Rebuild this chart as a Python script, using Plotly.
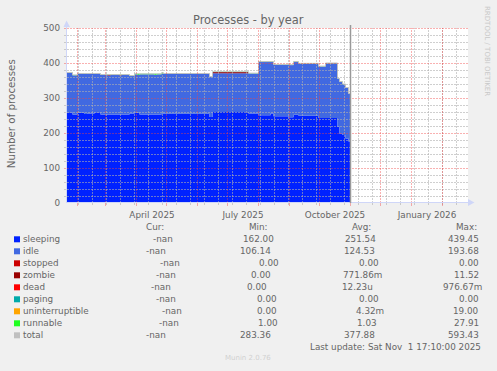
import plotly.graph_objects as go
from datetime import date, datetime, timedelta

# ---------------- data ----------------
dates = ["2025-01-21", "2025-01-27", "2025-02-01", "2025-02-08", "2025-02-11", "2025-02-18",
         "2025-02-24", "2025-03-03", "2025-03-06", "2025-03-15", "2025-03-17", "2025-03-25",
         "2025-03-30", "2025-04-02", "2025-04-04", "2025-04-19", "2025-04-21", "2025-04-26",
         "2025-04-28", "2025-06-13", "2025-06-16", "2025-07-22", "2025-07-31", "2025-08-01",
         "2025-08-13", "2025-08-16", "2025-08-19", "2025-08-20", "2025-08-31", "2025-09-05",
         "2025-09-10", "2025-09-30", "2025-10-07", "2025-10-19", "2025-10-21", "2025-10-24",
         "2025-10-27", "2025-10-30", "2025-11-01"]
sleeping = [259, 253, 258, 254, 256, 259, 253, 253, 253, 253, 253, 256, 258, 258, 253, 253, 253,
            255, 255, 246, 260, 256, 256, 251, 256, 248, 248, 248, 245, 252, 249, 243, 243, 218,
            198, 194, 184, 176, 176]
idle = [113, 112, 111, 115, 113, 110, 113, 111, 113, 111, 113, 107, 110, 108, 115, 113, 115,
        114, 114, 114, 111, 114, 113, 152, 147, 147, 146, 147, 149, 151, 149, 147, 156, 137,
        148, 145, 145, 136, 136]
stopped = [0, 0, 0, 0, 0, 0, 0, 0, 0, 0, 0, 0, 0, 0, 0, 0, 0, 0, 0, 0, 0, 0, 0, 0, 0, 0, 0, 0,
           0, 0, 0, 0, 0, 0, 0, 0, 0, 0, 0]
zombie = [0, 0, 0, 0, 0, 0, 0, 2, 0, 2, 0, 0, 0, 0, 0, 0, 0, 0, 0, 0, 3, 0, 0, 0, 0, 0, 0, 0,
          0, 0, 0, 0, 0, 0, 0, 0, 0, 0, 0]
dead = [0, 0, 0, 0, 0, 0, 0, 0, 0, 0, 0, 0, 0, 0, 0, 0, 0, 0, 0, 0, 0, 0, 0, 0, 0, 0, 1, 0,
        0, 0, 0, 0, 0, 0, 0, 0, 0, 0, 0]
paging = [0, 0, 0, 0, 0, 0, 0, 0, 0, 0, 0, 0, 0, 0, 0, 0, 0, 0, 0, 0, 0, 0, 0, 0, 0, 0, 0, 0,
          0, 0, 0, 0, 0, 0, 0, 0, 0, 0, 0]
uninterruptible = [0, 0, 0, 0, 0, 0, 0, 0, 0, 0, 0, 0, 0, 0, 0, 0, 0, 0, 0, 0, 0, 0, 0, 0, 0,
                   0, 0, 0, 0, 0, 0, 0, 0, 0, 0, 0, 0, 0, 0]
runnable = [1, 1, 1, 1, 1, 1, 1, 1, 1, 1, 1, 1, 1, 3, 1, 3, 1, 3, 1, 1, 1, 1, 2, 1, 1, 1, 1, 1,
            1, 1, 1, 1, 1, 1, 1, 1, 1, 1, 1]

series_names = ["sleeping", "idle", "stopped", "zombie", "dead", "paging", "uninterruptible",
                "runnable", "total"]
series_colors = ["#0022FF", "#4169E1", "#CC0000", "#990000", "#FF0000", "#00AAAA", "#FFA500",
                 "#22FF22", "#C0C0C0"]
cur_vals = ["-nan"] * 9
min_vals = ["162.00", "106.14", "0.00", "0.00", "0.00", "0.00", "0.00", "1.00", "283.36"]
avg_vals = ["251.54", "124.53", "0.00", "771.86m", "12.23u", "0.00", "4.32m", "1.03", "377.88"]
max_vals = ["439.45", "193.68", "0.00", "11.52", "976.67m", "0.00", "19.00", "27.91", "593.43"]

x_label_dates = ["2025-04-16 12:00", "2025-07-16 12:00", "2025-10-16 12:00", "2026-01-16 12:00"]
x_label_text = ["April 2025", "July 2025", "October 2025", "January 2026"]
y_ticks = [0, 100, 200, 300, 400, 500]
last_update = "2025-11-01"

# ---------------- geometry (pixels) ----------------
W, H = 497, 371
L, R, T, B = 67, 468, 28, 203
X0, X1 = datetime(2025, 1, 21, 12), datetime(2026, 2, 26, 12)   # 401 days over 401 px
FONT = "DejaVu Sans"
TXT = "#666666"
GRID = "rgba(175,175,175,0.6)"
MGRID = "rgba(240,70,70,0.42)"
AXIS = "#CFD6F8"
DASH = "2px,1px"
HALF = 0.5 * 500 / (B - T)   # half a pixel in y units


def px(xp):
    return (xp - L) / (R - L)


def py(yp):
    return (B - yp) / (B - T)


stack = [sleeping, idle, stopped, zombie, dead, paging, uninterruptible, runnable]
total = [sum(v) for v in zip(*stack)]

fig = go.Figure()
for name, vals, col in zip(series_names[:8], stack, series_colors[:8]):
    fig.add_trace(go.Scatter(
        x=dates, y=vals, name=name, stackgroup="one", mode="lines",
        line=dict(width=0, shape="hv", color=col), fillcolor=col,
        showlegend=False, hoverinfo="skip"))
fig.add_trace(go.Scatter(
    x=dates, y=total, name="total", mode="lines",
    line=dict(width=1, shape="hv", color=series_colors[8]),
    showlegend=False, hoverinfo="skip"))

# ---------------- grid (drawn above the areas, as in rrdtool) ----------------
minor_days, major_days = [], []
d = date(2025, 1, 5)
while d <= X1.date():
    if d > X0.date():
        minor_days.append(d)
    d += timedelta(days=14)
y_, m_ = 2025, 2
while date(y_, m_, 1) <= X1.date():
    major_days.append(date(y_, m_, 1))
    m_ += 1
    if m_ > 12:
        m_, y_ = 1, y_ + 1


def vlines(days):
    xs, ys = [], []
    for dd in days:
        xs += [str(dd), str(dd), None]
        ys += [0, 500, None]
    return xs, ys


def hlines(vals):
    xs, ys = [], []
    for v in vals:
        xs += [X0, X1, None]
        ys += [v - HALF, v - HALF, None]
    return xs, ys


minor_h = [v for v in range(20, 501, 20) if v % 100]
major_h = [v for v in range(100, 501, 100)]
for (xs, ys), col in [(hlines(minor_h), GRID), (vlines(minor_days), GRID),
                      (hlines(major_h), MGRID), (vlines(major_days), MGRID)]:
    fig.add_trace(go.Scatter(x=xs, y=ys, mode="lines", line=dict(color=col, width=1, dash=DASH),
                             showlegend=False, hoverinfo="skip"))

shapes = []
# tick marks outside the axes
for dd in minor_days:
    shapes.append(dict(type="line", xref="x", yref="paper", x0=str(dd), x1=str(dd), y0=0,
                       y1=py(B + 2), line=dict(color=GRID, width=1)))
for dd in major_days:
    shapes.append(dict(type="line", xref="x", yref="paper", x0=str(dd), x1=str(dd), y0=0,
                       y1=py(B + 3), line=dict(color=MGRID, width=1)))
for v in range(20, 501, 20):
    row = T + (500 - v) * (B - T) / 500 + 0.5
    shapes.append(dict(type="line", xref="paper", yref="paper", x0=px(L - 3), x1=px(L),
                       y0=py(row), y1=py(row),
                       line=dict(color=MGRID if v % 100 == 0 else GRID, width=1)))

# axes with arrows
shapes.append(dict(type="line", xref="paper", yref="paper", x0=px(L - 0.5), x1=px(L - 0.5),
                   y0=py(B), y1=py(24), line=dict(color=AXIS, width=1), layer="above"))
shapes.append(dict(type="line", xref="paper", yref="paper", x0=px(L), x1=px(470),
                   y0=py(B - 0.5), y1=py(B - 0.5), line=dict(color=AXIS, width=1), layer="above"))
shapes.append(dict(type="path", xref="paper", yref="paper",
                   path=f"M {px(63.5)} {py(27)} L {px(70)} {py(27)} L {px(66.5)} {py(20.5)} Z",
                   fillcolor=AXIS, line=dict(width=0), layer="above"))
shapes.append(dict(type="path", xref="paper", yref="paper",
                   path=f"M {px(468)} {py(199)} L {px(468)} {py(206)} L {px(474.5)} {py(202.5)} Z",
                   fillcolor=AXIS, line=dict(width=0), layer="above"))
# "now" rule
shapes.append(dict(type="line", xref="x", yref="paper", x0=last_update, x1=last_update, y0=0,
                   y1=py(25), line=dict(color="#999999", width=1.5), layer="above"))

# legend swatches
ROW0, DY = 239.3, 12.0
for i, col in enumerate(series_colors):
    yc = ROW0 + i * DY
    shapes.append(dict(type="rect", xref="paper", yref="paper", x0=px(14), x1=px(20),
                       y0=py(yc + 3), y1=py(yc - 3), fillcolor=col, line=dict(width=0)))

ann = []


def text(x, y, s, size=8.8, color=TXT, xanchor="center", angle=0):
    ann.append(dict(x=px(x), y=py(y), xref="paper", yref="paper", text=s, showarrow=False,
                    xanchor=xanchor, yanchor="middle", textangle=angle,
                    font=dict(family=FONT, size=size, color=color)))


text(248.5, 20, "Processes - by year", size=11.4)
text(11, 114.3, "Number of processes", size=10.3, angle=-90)
text(487, 51, "RRDTOOL / TOBI OETIKER", size=7, color="#C8C8C8", angle=90)

# legend table
cur_x = [162.5, 155.5, 170, 165.5, 160.8, 166.2, 171.7, 169.2, 156.3]
min_x = [258.3, 255, 269.2, 261.3, 257.3, 267, 266.7, 267.5, 255]
avg_x = [360.8, 359.2, 369.3, 362.5, 357.5, 368.5, 370.3, 366.7, 359.5]
max_x = [463, 463, 469.3, 466, 462, 469.3, 466, 466, 463]
text(155, 226.7, "Cur:")
text(258.7, 226.7, "Min:")
text(361.5, 226.7, "Avg:")
text(466, 226.7, "Max:")
for i, name in enumerate(series_names):
    yc = ROW0 + i * DY
    text(20.5, yc, name, xanchor="left")
    text(cur_x[i], yc, cur_vals[i])
    text(min_x[i], yc, min_vals[i])
    text(avg_x[i], yc, avg_vals[i])
    text(max_x[i], yc, max_vals[i])
text(395.2, 347, "Last update: Sat Nov\u00a0 1 17:10:00 2025")
text(248, 358.3, "Munin 2.0.76", size=7, color="#D0D0D0")

fig.update_layout(
    width=W, height=H,
    margin=dict(l=L, r=W - R, t=T, b=H - B, pad=0),
    paper_bgcolor="#F0F0F0", plot_bgcolor="#FFFFFF",
    shapes=shapes, annotations=ann,
    xaxis=dict(type="date", range=[X0, X1], showgrid=False,
               zeroline=False, showline=False, tickvals=x_label_dates, ticktext=x_label_text,
               ticks="outside", ticklen=3, tickcolor="rgba(0,0,0,0)",
               tickfont=dict(family=FONT, size=8.8, color=TXT), fixedrange=True),
    yaxis=dict(range=[0, 500], showgrid=False, zeroline=False, showline=False,
               tickvals=y_ticks, ticks="", ticklabelstandoff=6,
               tickfont=dict(family=FONT, size=8.8, color=TXT), fixedrange=True),
    showlegend=False,
)

fig.write_html("out.html", include_plotlyjs=True, config={"displayModeBar": False},
               post_script="document.body.style.margin='0';document.body.style.background='#F0F0F0';")
